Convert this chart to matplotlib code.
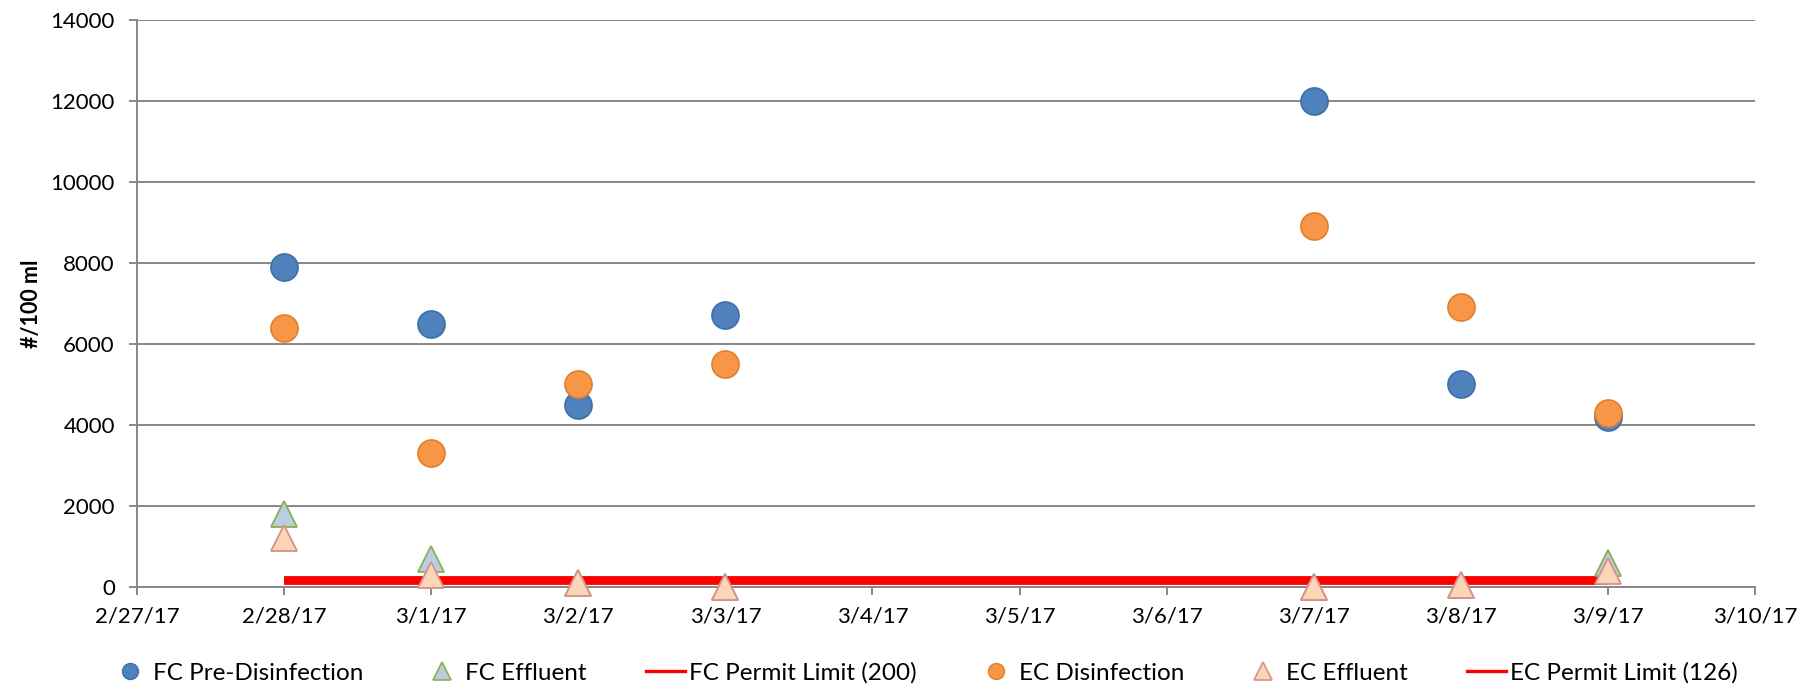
import datetime as dt
import matplotlib
matplotlib.use("Agg")
import matplotlib.pyplot as plt
import matplotlib.dates as mdates
from matplotlib.lines import Line2D

plt.rcParams['font.family'] = ['Lato', 'DejaVu Sans']

# Sample dates and bacteria counts (#/100 ml)
sample_dates = ["2017-02-28", "2017-03-01", "2017-03-02", "2017-03-03",
                "2017-03-07", "2017-03-08", "2017-03-09"]
fc_pre_disinfection = [7900, 6500, 4500, 6700, 12000, 5000, 4200]
fc_effluent = [1800, 700, 100, 10, 10, 50, 600]
ec_disinfection = [6400, 3300, 5000, 5500, 8900, 6900, 4300]
ec_effluent = [1200, 300, 100, 10, 10, 50, 400]
fc_permit_limit = 200
ec_permit_limit = 126

axis_start = "2017-02-27"
axis_end = "2017-03-10"
y_ticks = [0, 2000, 4000, 6000, 8000, 10000, 12000, 14000]

dates = [dt.datetime.strptime(d, "%Y-%m-%d") for d in sample_dates]
x = mdates.date2num(dates)
x0 = mdates.date2num(dt.datetime.strptime(axis_start, "%Y-%m-%d"))
x1 = mdates.date2num(dt.datetime.strptime(axis_end, "%Y-%m-%d"))

W, H = 1814, 690
fig = plt.figure(figsize=(W / 100, H / 100), dpi=100)
ax = fig.add_axes([137 / W, 1 - 587 / H, (1755 - 137) / W, (587 - 19.5) / H])

GRID = "#878787"
BLUE, BLUE_EDGE = "#4F81BD", "#3F6FA8"
ORANGE, ORANGE_EDGE = "#F79646", "#E07F2C"
TRI_BLUE, TRI_GREEN = "#B9CDE5", "#8DB04E"
TRI_PEACH, TRI_ROSE = "#FBD5B5", "#D4918E"
RED = "#FF0000"

# Permit limit lines
ax.plot([x[0], x[-1]], [fc_permit_limit] * 2, color=RED, lw=4.2,
        solid_capstyle="butt", zorder=3)
ax.plot([x[0], x[-1]], [ec_permit_limit] * 2, color=RED, lw=4.2,
        solid_capstyle="butt", zorder=3)

ms_circle = 19.5
ms_tri = 18.5
ax.plot(x, fc_pre_disinfection, ls="none", marker="o", ms=ms_circle,
        mfc=BLUE, mec=BLUE_EDGE, mew=1.2, zorder=4, clip_on=False)
ax.plot(x, fc_effluent, ls="none", marker="^", ms=ms_tri,
        mfc=TRI_BLUE, mec=TRI_GREEN, mew=1.3, zorder=4, clip_on=False)
ax.plot(x, ec_disinfection, ls="none", marker="o", ms=ms_circle,
        mfc=ORANGE, mec=ORANGE_EDGE, mew=1.2, zorder=5, clip_on=False)
ax.plot(x, ec_effluent, ls="none", marker="^", ms=ms_tri,
        mfc=TRI_PEACH, mec=TRI_ROSE, mew=1.3, zorder=5, clip_on=False)

# Axes styling
ax.set_xlim(x0, x1)
ax.set_ylim(0, 14000)
ax.set_yticks(y_ticks)
ax.set_yticklabels([str(v) for v in y_ticks])
day_ticks = list(range(int(x0), int(x1) + 1))
ax.set_xticks(day_ticks)
ax.set_xticklabels([f"{d.month}/{d.day}/{d.year % 100}"
                    for d in mdates.num2date(day_ticks)])
ax.grid(axis="y", color=GRID, lw=1.4, zorder=0)
ax.set_axisbelow(True)
for side in ("top", "right"):
    ax.spines[side].set_visible(False)
for side in ("left", "bottom"):
    ax.spines[side].set_color(GRID)
    ax.spines[side].set_linewidth(1.4)
ax.tick_params(axis="both", direction="out", color=GRID, width=1.4,
               length=6, labelsize=16, labelcolor="black")
ax.tick_params(axis="x", pad=8)
ax.tick_params(axis="y", pad=10)
ax.set_ylabel("#/100 ml", fontsize=15.5, fontweight="bold")
ax.yaxis.set_label_coords(-0.059, 0.5)

handles = [
    Line2D([], [], ls="none", marker="o", ms=11.5, mfc=BLUE, mec=BLUE_EDGE, mew=1),
    Line2D([], [], ls="none", marker="^", ms=12.5, mfc=TRI_BLUE, mec=TRI_GREEN, mew=1.2),
    Line2D([], [], color=RED, lw=2.4),
    Line2D([], [], ls="none", marker="o", ms=11.5, mfc=ORANGE, mec=ORANGE_EDGE, mew=1),
    Line2D([], [], ls="none", marker="^", ms=12.5, mfc=TRI_PEACH, mec=TRI_ROSE, mew=1.2),
    Line2D([], [], color=RED, lw=2.4),
]
labels = ["FC Pre-Disinfection", "FC Effluent", "FC Permit Limit (200)",
          "EC Disinfection", "EC Effluent", "EC Permit Limit (126)"]
fig.legend(handles, labels, ncol=6, loc="center",
           bbox_to_anchor=(924 / W, 1 - 673 / H), frameon=False,
           fontsize=17.5, handlelength=1.6, handletextpad=0.15,
           columnspacing=2.45, borderpad=0)

fig.savefig("out.png", dpi=100)
